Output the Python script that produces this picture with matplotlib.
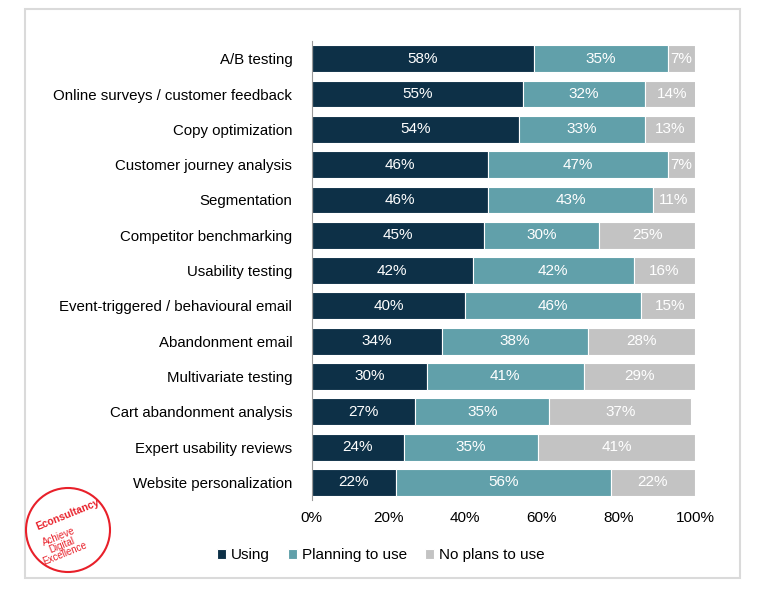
import matplotlib.pyplot as plt
from matplotlib.patches import Rectangle, Ellipse

categories = ["A/B testing", "Online surveys / customer feedback", "Copy optimization",
              "Customer journey analysis", "Segmentation", "Competitor benchmarking",
              "Usability testing", "Event-triggered / behavioural email", "Abandonment email",
              "Multivariate testing", "Cart abandonment analysis", "Expert usability reviews",
              "Website personalization"]
using = [58, 55, 54, 46, 46, 45, 42, 40, 34, 30, 27, 24, 22]
planning = [35, 32, 33, 47, 43, 30, 42, 46, 38, 41, 35, 35, 56]
no_plans = [7, 14, 13, 7, 11, 25, 16, 15, 28, 29, 37, 41, 22]

series = [("Using", using, "#0d3047"), ("Planning to use", planning, "#61a0aa"),
          ("No plans to use", no_plans, "#c3c3c3")]

plt.rcParams['font.family'] = ['Liberation Sans', 'DejaVu Sans']
fig = plt.figure(figsize=(7.68, 5.96), dpi=100)
fig.patches.append(Rectangle((0.033, 0.03), 0.93, 0.955, transform=fig.transFigure,
                             fill=False, edgecolor="#dadada", lw=1.5))
ax = fig.add_axes([0.406, 0.161, 0.499, 0.77])

y = list(range(len(categories)))
left = [0] * len(categories)
for name, vals, col in series:
    ax.barh(y, vals, left=left, color=col, height=0.76, label=name,
            edgecolor="white", linewidth=0.8)
    for yi, l, v in zip(y, left, vals):
        ax.text(l + v / 2, yi, f"{v}%", ha="center", va="center", color="white", fontsize=11)
    left = [a + b for a, b in zip(left, vals)]

ax.set_xlim(0, 100)
ax.set_ylim(len(categories) - 0.5, -0.5)
ax.set_yticks(y)
ax.set_yticklabels(categories, fontsize=10.8)
ax.set_xticks(range(0, 101, 20))
ax.set_xticklabels([f"{v}%" for v in range(0, 101, 20)], fontsize=11)
ax.tick_params(axis="y", length=0, pad=14)
ax.tick_params(axis="x", length=0, pad=8)
for s in ["top", "right", "bottom"]:
    ax.spines[s].set_visible(False)
ax.spines["left"].set_color("#999999")

ax.legend(loc="upper center", bbox_to_anchor=(0.18, -0.075), ncol=3, frameon=False,
          fontsize=11, handlelength=0.6, handleheight=0.6, handletextpad=0.3,
          columnspacing=1.2)

# logo
fig.patches.append(Ellipse((68 / 768, 1 - 530 / 596), 84 / 768, 84 / 596,
                           transform=fig.transFigure, fill=False,
                           edgecolor="#e8202a", lw=1.5))
fig.text(68 / 768, 1 - 515 / 596, "Econsultancy", color="#e8202a", fontsize=7.5,
         fontweight="bold", rotation=22, ha="center", va="center")
fig.text(62 / 768, 1 - 545 / 596, "Achieve\nDigital\nExcellence", color="#e8202a",
         fontsize=7, rotation=22, ha="center", va="center", linespacing=0.85)

fig.savefig("out.png")
